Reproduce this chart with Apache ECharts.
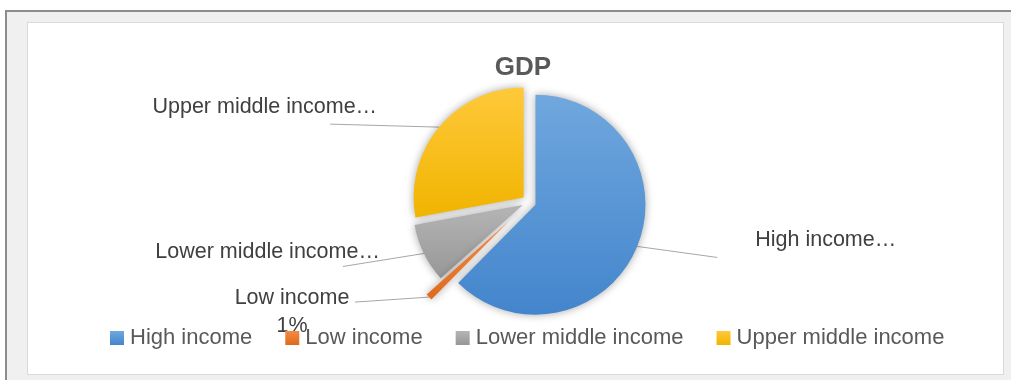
<!DOCTYPE html>
<html>
<head>
<meta charset="utf-8">
<script src="https://cdn.jsdelivr.net/npm/echarts@6/dist/echarts.min.js"></script>
<style>
  html, body { margin: 0; padding: 0; background: #fff; }
  #frame { position: absolute; left: 5px; top: 10px; width: 1004px; height: 368px;
           border-left: 2px solid #8c8c8c; border-top: 2px solid #8c8c8c; background: #f0f0f0; }
  #panel { position: absolute; left: 27px; top: 22px; width: 975px; height: 351px;
           border: 1px solid #d9d9d9; background: #fff; }
  #chart { position: absolute; left: 0; top: 0; width: 1011px; height: 380px; }
</style>
</head>
<body>
<div id="frame"></div>
<div id="panel"></div>
<div id="chart"></div>
<script>
// income groups and their share of GDP (%)
const categories = ['High income', 'Low income', 'Lower middle income', 'Upper middle income'];
const shares = [62.4, 1.0, 8.7, 27.9];

// office-like palette, light top -> dark bottom
const baseColors = ['#5b9bd5', '#ed7d31', '#a5a5a5', '#ffc000'];
const topColors = ['#70a7de', '#f38b45', '#b5b5b5', '#ffc93a'];
const bottomColors = ['#4385cc', '#df6a1d', '#979797', '#f0b400'];

// the small slice is pulled out further than the others
const farSlice = 'Low income';

// where each data label sits, relative to its leader line anchor
// text: [x of the aligned edge, y of the middle]
const labelPlacement = [
  { line: [80, 11], text: [118, -6], align: 'left' },
  { line: [-74, 5], text: [-137, 15], align: 'center' },
  { line: [-81, 13], text: [-44, -1], align: 'right' },
  { line: [-109, -3], text: [-62, -20], align: 'right' }
];

const chart = echarts.init(document.getElementById('chart'));

const gradient = i => new echarts.graphic.LinearGradient(0, 0, 0, 1, [
  { offset: 0, color: topColors[i] },
  { offset: 1, color: bottomColors[i] }
]);

// visible = whether this series draws the item
const makeData = visible => categories.map((name, i) => {
  const on = visible(name);
  return {
    name: name,
    value: shares[i],
    selected: on,
    silent: !on,
    itemStyle: { color: on ? gradient(i) : 'transparent' },
    label: { show: on },
    labelLine: { show: on }
  };
});

const labelLayout = function (params) {
  const p = labelPlacement[params.dataIndex];
  const a = params.labelLinePoints && params.labelLinePoints[0];
  if (!p || !a) return {};
  const r = params.labelRect;
  const edge = p.align === 'left' ? r.x : r.x + r.width;
  const out = {
    dx: a[0] + p.text[0] - edge,
    dy: a[1] + p.text[1] - (r.y + r.height / 2),
    labelLinePoints: [a.slice(), [a[0] + p.line[0], a[1] + p.line[1]]]
  };
  if (p.align === 'center') out.align = 'center';
  return out;
};

const pieBase = {
  type: 'pie',
  center: [529, 202],
  radius: 110,
  startAngle: 90,
  selectedMode: 'multiple',
  percentPrecision: 0,
  itemStyle: { shadowBlur: 8, shadowColor: 'rgba(0,0,0,0.35)' },
  emphasis: { disabled: true },
  label: {
    position: 'outside',
    fontFamily: 'Liberation Sans',
    fontSize: 21.5,
    color: '#404040',
    lineHeight: 28,
    formatter: p => p.value < 2 ? p.name + '\n' + p.percent + '%' : p.name + '…'
  },
  labelLine: { length: 15, length2: 50, lineStyle: { color: '#a6a6a6', width: 1 } },
  labelLayout: labelLayout
};

chart.setOption({
  animation: false,
  color: baseColors,
  title: {
    text: 'GDP',
    left: 518,
    top: 50,
    textAlign: 'center',
    textStyle: { fontFamily: 'Liberation Sans', fontSize: 26, fontWeight: 'bold', color: '#595959' }
  },
  legend: {
    left: 105,
    top: 322,
    itemWidth: 14,
    itemHeight: 14,
    itemGap: 33,
    icon: 'rect',
    data: categories.map((name, i) => ({ name: name, itemStyle: { color: gradient(i) } })),
    textStyle: { fontFamily: 'Liberation Sans', fontSize: 22, color: '#595959', padding: [0, 0, 0, 1] }
  },
  series: [
    Object.assign({}, pieBase, {
      name: 'GDP',
      selectedOffset: 7,
      data: makeData(n => n !== farSlice)
    }),
    Object.assign({}, pieBase, {
      name: 'GDP ' + farSlice,
      selectedOffset: 28,
      data: makeData(n => n === farSlice)
    })
  ]
});
</script>
</body>
</html>
